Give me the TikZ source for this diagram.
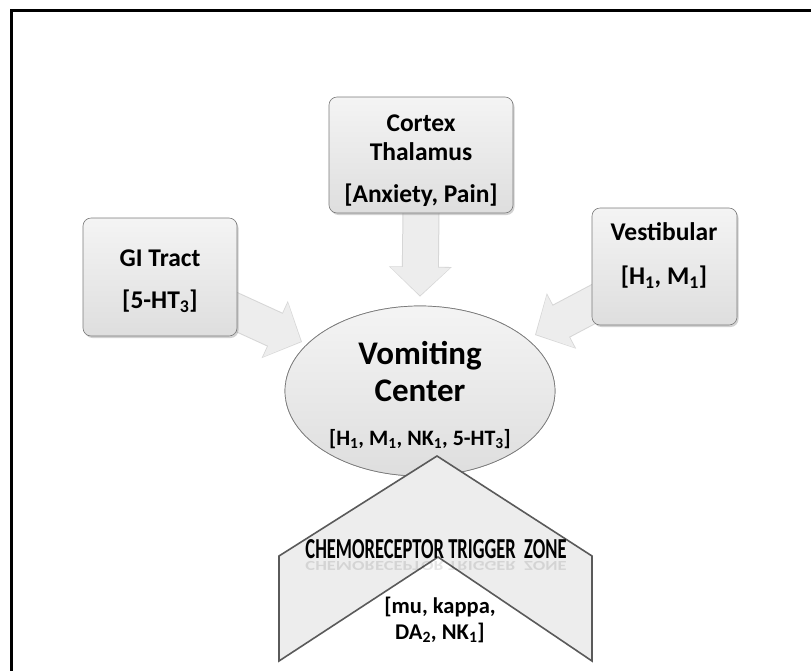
\documentclass[tikz,border=0pt]{standalone}
\usepackage{fontspec}
\setmainfont{Carlito}
\usetikzlibrary{shapes.geometric,arrows.meta,shadows,calc}
\definecolor{boxtop}{HTML}{F4F4F4}
\definecolor{boxbot}{HTML}{DEDEDE}
\definecolor{arrowfill}{HTML}{EDEDED}
\definecolor{arrowedge}{HTML}{D6D6D6}
\definecolor{edgegray}{HTML}{7A7A7A}
\definecolor{chevedge}{HTML}{5A5A5A}
\begin{document}
\begin{tikzpicture}[x=1pt,y=-1pt,
  srcbox/.style={draw=edgegray, line width=0.6pt, rounded corners=8pt,
    top color=boxtop, bottom color=boxbot,
    drop shadow={shadow xshift=1.5pt, shadow yshift=-2pt, opacity=0.35}},
  lbl/.style={font=\bfseries\fontsize{25.5}{30}\selectfont, inner sep=0pt, text=black},
  biglbl/.style={font=\bfseries\fontsize{33}{38}\selectfont, inner sep=0pt, text=black},
  smlbl/.style={font=\bfseries\fontsize{22}{26}\selectfont, inner sep=0pt, text=black},
  chlbl/.style={font=\bfseries\fontsize{22.5}{26}\selectfont, inner sep=0pt, text=black},
  arrowrim/.style={draw=arrowedge, line width=37pt,
    -{Triangle[width=61pt,length=30pt]}},
  blockarrow/.style={draw=arrowfill, line width=35pt, shorten >=1.2pt,
    -{Triangle[width=58pt,length=28pt]}},
  centerell/.style={ellipse, draw=edgegray, line width=0.7pt,
    top color=boxtop, bottom color=boxbot,
    minimum width=270pt, minimum height=170pt, inner sep=0pt},
  chevron/.style={draw=chevedge, line width=1.6pt, fill=arrowfill, line join=miter}
]
\useasboundingbox (0,0) rectangle (811,670);
\fill[white] (0,0) rectangle (811,670);
% frame
\coordinate (fbl) at (11,672);
\coordinate (ftl) at (11,10);
\coordinate (ftr) at (813,10);
\draw[line width=3pt] (fbl) -- (ftl) -- (ftr);

% centre ellipse position (needed for arrows)
\node[centerell] (vc) at (420,391) {};

% source box centres
\coordinate (cortexC) at (421,155);
\coordinate (giC) at (160,277);
\coordinate (vestC) at (664.5,266.5);

% block arrows
\coordinate (gitip) at (302,342);
\coordinate (vesttip) at (535,335);
\coordinate (cortexstart) at (421,213);
\coordinate (cortextip) at ($(vc.north)+(0,-9)$);
\draw[arrowrim] (giC) -- (gitip);
\draw[arrowrim] (vestC) -- (vesttip);
\draw[arrowrim] (cortexstart) -- (cortextip);
\draw[blockarrow] (giC) -- (gitip);
\draw[blockarrow] (vestC) -- (vesttip);
\draw[blockarrow] (cortexstart) -- (cortextip);

% boxes
\node[srcbox, minimum width=184pt, minimum height=116pt] (cortex) at (cortexC) {};
\node[srcbox, minimum width=154pt, minimum height=118pt] (gi) at (giC) {};
\node[srcbox, minimum width=145pt, minimum height=117pt] (vest) at (vestC) {};

% redraw ellipse on top
\node[centerell] (vc2) at (vc) {};

% box texts
\node[lbl] (t1) at (421,123) {Cortex};
\node[lbl] (t2) at (421,152) {Thalamus};
\node[lbl] (t3) at (421,195) {[Anxiety, Pain]};
\node[lbl] (g1) at (160,258) {GI Tract};
\node[lbl] (g2) at (160,301) {[5-HT\textsubscript{3}]};
\node[lbl] (v1) at (664,232) {Vestibular};
\node[lbl] (v2) at (664,277) {[H\textsubscript{1}, M\textsubscript{1}]};

% ellipse texts
\node[biglbl] (e1) at (420,356) {Vomiting};
\node[biglbl] (e2) at (420,391) {Center};
\node[smlbl] (e3) at (420,439) {[H\textsubscript{1}, M\textsubscript{1}, NK\textsubscript{1}, 5-HT\textsubscript{3}]};

% chevron
\coordinate (ch1) at (437,456);
\coordinate (ch2) at (592,556);
\coordinate (ch3) at (592,661);
\coordinate (ch4) at (438,557);
\coordinate (ch5) at (279,661);
\coordinate (ch6) at (279,556);
\draw[chevron] (ch1) -- (ch2) -- (ch3) -- (ch4) -- (ch5) -- (ch6) -- cycle;

\node[inner sep=0pt, text opacity=0.1] (ctzR) at (436,566)
  {\scalebox{1}[-1]{\resizebox{261pt}{9pt}{\bfseries CHEMORECEPTOR TRIGGER\ \ ZONE}}};
\node[inner sep=0pt] (ctz) at (436,549)
  {\resizebox{261pt}{19pt}{\bfseries CHEMORECEPTOR TRIGGER\ \ ZONE}};
\node[chlbl] (c1) at (440,607) {[mu, kappa,};
\node[chlbl] (c2) at (440,633) {DA\textsubscript{2}, NK\textsubscript{1}]};
\end{tikzpicture}
\end{document}
